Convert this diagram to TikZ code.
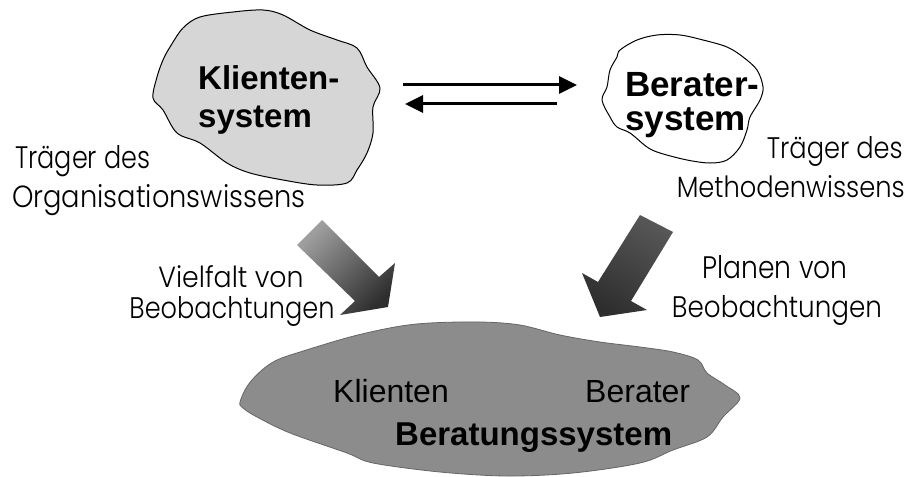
\documentclass[tikz,border=0pt]{standalone}
\usepackage{fontspec}
\usepackage{graphicx}
\usetikzlibrary{arrows.meta}
\newfontfamily\headfont{Liberation Sans}
\newfontfamily\notefont[UprightFont={* Light}]{Poppins}
% side notes: set each line to a given width and cap height
\newcommand\notetext[3]{\resizebox{#1pt}{#2pt}{\notefont #3}}

\begin{document}
\begin{tikzpicture}[x=1pt,y=-1pt,
  blobline/.style={line width=1pt, line join=round},
  title/.style={inner sep=0pt, font=\headfont\bfseries\fontsize{33}{40}\selectfont},
  titlebig/.style={inner sep=0pt, font=\headfont\bfseries\fontsize{35}{40}\selectfont},
  plain/.style={inner sep=0pt, font=\headfont\fontsize{32}{38}\selectfont},
  note/.style={inner sep=0pt},
  flow/.style={line width=3pt, -{Triangle[length=18pt,width=17pt]}},
]
\fill[white] (0,0) rectangle (909,476);
\useasboundingbox (0,0) rectangle (909,476);

% client system
\draw[blobline, fill=black!16] plot[smooth cycle, tension=0.55] coordinates {
  (183,28) (200,17) (233,12) (263,10) (283,15) (310,30) (337,40) (357,48)
  (367,67) (380,88) (373,107) (373,133) (367,153) (357,170) (347,183)
  (317,185) (283,180) (250,173) (227,163) (200,143) (177,133) (163,110)
  (153,98) (157,77) (163,60) (170,47)};
\node[title, anchor=base west] (kl1) at (198,90) {Klienten-};
\node[title, anchor=base west] (kl2) at (198,128) {system};

% consultant system
\draw[blobline, fill=white] plot[smooth cycle, tension=0.55] coordinates {
  (620,50) (637,40) (657,35) (680,35) (703,40) (727,47) (743,57) (757,70)
  (763,87) (760,100) (750,117) (747,130) (740,147) (727,160) (710,163)
  (687,160) (660,153) (647,147) (630,133) (617,127) (610,117) (602,100)
  (607,87) (610,70) (617,57)};
\node[titlebig, anchor=base west] (be1) at (625,96) {Berater-};
\node[titlebig, anchor=base west] (be2) at (625,130) {system};

% exchange between the two systems
\coordinate (kOut) at (403,85);
\coordinate (bIn) at (577,85);
\coordinate (bOut) at (557,104);
\coordinate (kIn) at (405,104);
\draw[flow] (kOut) -- (bIn);
\draw[flow] (bOut) -- (kIn);

% side notes
\node[note, anchor=base west] (tk1) at (15,168) {\notetext{135}{23}{Träger des}};
\node[note, anchor=base west] (tk2) at (12,207) {\notetext{293}{23}{Organisationswissens}};
\node[note, anchor=base east] (tb1) at (903,158) {\notetext{136}{22}{Träger des}};
\node[note, anchor=base east] (tb2) at (905,197) {\notetext{228}{22}{Methodenwissens}};
\node[note, anchor=base] (vl1) at (231,287) {\notetext{145}{22}{Vielfalt von}};
\node[note, anchor=base] (vl2) at (232,318) {\notetext{205}{22}{Beobachtungen}};
\node[note, anchor=base] (pl1) at (775,278) {\notetext{145}{23}{Planen von}};
\node[note, anchor=base] (pl2) at (777,317) {\notetext{210}{22}{Beobachtungen}};

% broad arrows into the joint system
\shade[top color=black!82, bottom color=black!38, shading angle=-135]
  (322,220) -- (379,277) -- (395,263) -- (388,307) -- (340,315)
  -- (355,301) -- (297,245) -- cycle;
\shade[top color=black!82, bottom color=black!66, shading angle=149]
  (640,215) -- (598,282) -- (582,273) -- (600,317) -- (647,310)
  -- (631,301) -- (673,232) -- cycle;

% joint consulting system
\draw[line width=0.8pt, draw=black!60, fill=black!45] plot[smooth cycle, tension=0.55] coordinates {
  (240,402) (248,385) (262,370) (277,360) (300,352) (350,337) (395,327)
  (430,323) (480,322) (520,325) (560,335) (600,342) (640,347) (673,352)
  (698,360) (707,373) (725,385) (740,398)
  (723,417) (707,437) (673,450) (640,463) (573,473) (507,476) (440,472)
  (373,463) (347,453) (290,433) (257,417) (243,408)};
\node[plain, anchor=base west] (jk) at (333,402) {Klienten};
\node[plain, anchor=base west] (jb) at (585,402) {Berater};
\node[title, anchor=base west] (js) at (395,445) {Beratungssystem};
\end{tikzpicture}
\end{document}
